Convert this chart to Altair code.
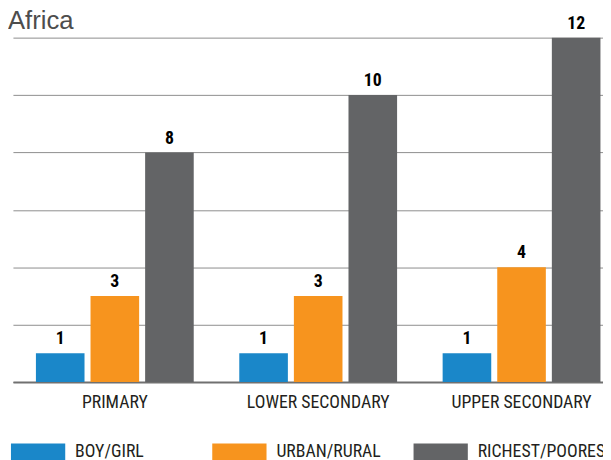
import altair as alt
import pandas as pd

categories = ["PRIMARY", "LOWER SECONDARY", "UPPER SECONDARY"]
series = ["BOY/GIRL", "URBAN/RURAL", "RICHEST/POOREST"]
boy_girl = [1, 1, 1]
urban_rural = [3, 3, 4]
richest_poorest = [8, 10, 12]
colors = ["#1a87c9", "#f7941e", "#636466"]
grid_values = [0, 2, 4, 6, 8, 10, 12]

rows = []
for s, vals in zip(series, [boy_girl, urban_rural, richest_poorest]):
    for c, v in zip(categories, vals):
        rows.append({"category": c, "series": s, "value": v})
df = pd.DataFrame(rows)

NARROW = "Liberation Sans Narrow, Arial Narrow, Roboto Condensed, Liberation Sans, sans-serif"

x = alt.X("category:N", sort=categories,
          scale=alt.Scale(paddingInner=0.224, paddingOuter=0.0628, align=0.9),
          axis=alt.Axis(title=None, labelAngle=0, domainColor="#707070", domainWidth=2,
                        ticks=False, labelPadding=12, labelFont=NARROW, labelFontSize=18,
                        labelColor="#231f20", grid=False))
xoff = alt.XOffset("series:N", sort=series, scale=alt.Scale(paddingInner=0.11, paddingOuter=0))
y = alt.Y("value:Q", scale=alt.Scale(domain=[0, 12], nice=False),
          axis=alt.Axis(values=grid_values, labels=False, ticks=False, domain=False, title=None,
                        gridColor="#8c8c8c", gridWidth=1))

bars = alt.Chart(df).mark_bar().encode(
    x=x, xOffset=xoff, y=y,
    color=alt.Color("series:N", sort=series,
                    scale=alt.Scale(domain=series, range=colors),
                    legend=alt.Legend(title=None, orient="none", legendX=-2, legendY=392,
                                      direction="horizontal", columns=3,
                                      symbolType="M-1,-0.31L1,-0.31L1,0.31L-1,0.31Z",
                                      symbolSize=3025, symbolStrokeWidth=0, symbolOpacity=1,
                                      labelFont=NARROW, labelFontSize=18, labelColor="#231f20",
                                      labelOffset=10, columnPadding=0, gridAlign="all",
                                      labelLimit=300, padding=0)),
)

labels = alt.Chart(df).mark_text(dy=-9, baseline="alphabetic", fontWeight="bold", fontSize=18,
                                 font=NARROW, color="#000000").encode(
    x=x, xOffset=xoff, y=y, text=alt.Text("value:Q"))

chart = alt.layer(bars, labels).properties(
    width=598, height=349,
    title=alt.TitleParams("Africa", anchor="start", fontSize=26, font="Liberation Sans",
                          fontWeight="normal", color="#4d4d4d", dx=-3, offset=-19),
    autosize=alt.AutoSizeParams(type="none"),
    padding={"left": 5, "top": 27, "right": 0, "bottom": 76},
).configure_view(stroke=None)

chart.save("out.html", embed_options={"renderer": "svg", "actions": False})
